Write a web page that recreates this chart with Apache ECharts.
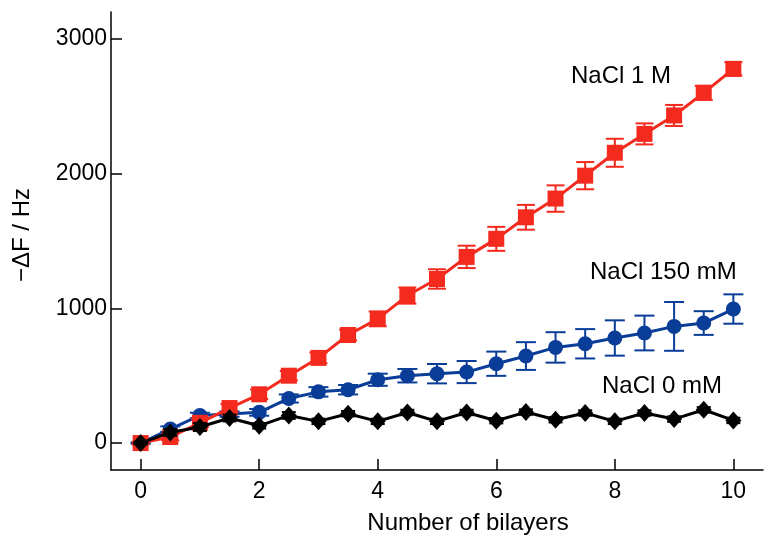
<!DOCTYPE html>
<html>
<head>
<meta charset="utf-8">
<script src="https://cdn.jsdelivr.net/npm/echarts@6/dist/echarts.min.js"></script>
<style>
  html, body { margin: 0; padding: 0; background: #ffffff; }
  #chart { width: 778px; height: 555px; }
</style>
</head>
<body>
<div id="chart"></div>
<script>
// ---- data ----
const bilayers = [0, 0.5, 1, 1.5, 2, 2.5, 3, 3.5, 4, 4.5, 5, 5.5, 6, 6.5, 7, 7.5, 8, 8.5, 9, 9.5, 10];
const nacl1M = [0, 45, 150, 260, 362, 500, 632, 802, 922, 1095, 1218, 1382, 1516, 1676, 1815, 1985, 2155, 2295, 2432, 2600, 2778];
const nacl1MErr = [10, 25, 30, 30, 35, 35, 40, 40, 55, 60, 72, 83, 89, 92, 98, 101, 104, 78, 78, 52, 50];
const nacl150 = [0, 104, 205, 215, 228, 331, 380, 396, 470, 500, 515, 527, 589, 646, 710, 737, 780, 817, 866, 891, 995];
const nacl150Err = [5, 20, 20, 20, 25, 30, 35, 35, 45, 50, 72, 82, 90, 103, 113, 109, 131, 129, 181, 88, 109];
const nacl0 = [0, 79, 119, 186, 128, 205, 161, 218, 161, 227, 161, 227, 166, 230, 173, 223, 161, 223, 178, 247, 168];
const nacl0Err = [10, 25, 30, 25, 20, 25, 20, 20, 20, 20, 20, 20, 20, 20, 20, 20, 20, 20, 20, 20, 20];
const xTicks = [0, 2, 4, 6, 8, 10];
const yTicks = [0, 1000, 2000, 3000];
const labels = ['NaCl 1 M', 'NaCl 150 mM', 'NaCl 0 mM'];

const RED = '#f42a1e';
const BLUE = '#0a3d98';
const BLACK = '#000000';
const FONT = 'Liberation Sans, Arial, sans-serif';

function pts(ys) { return bilayers.map((x, i) => [x, ys[i]]); }
function errPts(ys, es) { return bilayers.map((x, i) => [x, ys[i] - es[i], ys[i] + es[i]]); }

function errRender(color, capHalf) {
  return function (params, api) {
    const x = api.value(0);
    const p1 = api.coord([x, api.value(1)]);
    const p2 = api.coord([x, api.value(2)]);
    const st = { stroke: color, lineWidth: 2 };
    return {
      type: 'group',
      children: [
        { type: 'line', shape: { x1: p1[0], y1: p1[1], x2: p2[0], y2: p2[1] }, style: st },
        { type: 'line', shape: { x1: p1[0] - capHalf, y1: p1[1], x2: p1[0] + capHalf, y2: p1[1] }, style: st },
        { type: 'line', shape: { x1: p2[0] - capHalf, y1: p2[1], x2: p2[0] + capHalf, y2: p2[1] }, style: st }
      ]
    };
  };
}

function lineSeries(name, ys, color, symbol, size, z) {
  return {
    name: name, type: 'line', data: pts(ys), z: z,
    symbol: symbol, symbolSize: size, showSymbol: true,
    lineStyle: { color: color, width: 3 },
    itemStyle: { color: color },
    animation: false
  };
}
function errSeries(ys, es, color, capHalf, z) {
  return {
    type: 'custom', data: errPts(ys, es), z: z,
    encode: { x: 0, y: [1, 2] },
    renderItem: errRender(color, capHalf),
    animation: false, silent: true
  };
}

const chart = echarts.init(document.getElementById('chart'), null, { renderer: 'canvas' });
chart.setOption({
  backgroundColor: '#ffffff',
  animation: false,
  grid: { left: 111, right: 15, top: 12, bottom: 85, containLabel: false },
  xAxis: {
    type: 'value', min: -0.5, max: 10.5,
    name: 'Number of bilayers', nameLocation: 'middle', nameGap: 41,
    nameTextStyle: { fontFamily: FONT, fontSize: 24, color: '#000', padding: [0, 0, 0, 62] },
    axisLine: { show: true, onZero: false, lineStyle: { color: '#000', width: 1.5 } },
    axisTick: { show: true, inside: true, length: 11, customValues: xTicks, lineStyle: { color: '#000', width: 1.5 } },
    axisLabel: { customValues: xTicks, fontFamily: FONT, fontSize: 23, color: '#000', margin: 10,
                 formatter: function (v) { return String(v); } },
    splitLine: { show: false }
  },
  yAxis: {
    type: 'value', min: -200, max: 3200,
    name: '\u2212\u0394F / Hz', nameLocation: 'middle', nameGap: 77, nameRotate: 90,
    nameTextStyle: { fontFamily: FONT, fontSize: 24, color: '#000', padding: [0, 0, 0, 12] },
    axisLine: { show: true, onZero: false, lineStyle: { color: '#000', width: 1.5 } },
    axisTick: { show: true, inside: true, length: 11, customValues: yTicks, lineStyle: { color: '#000', width: 1.5 } },
    axisLabel: { customValues: yTicks, fontFamily: FONT, fontSize: 23, color: '#000', margin: 4,
                 formatter: function (v) { return String(v); } },
    splitLine: { show: false }
  },
  series: [
    errSeries(nacl150, nacl150Err, BLUE, 10, 1),
    lineSeries(labels[1], nacl150, BLUE, 'circle', 15, 2),
    errSeries(nacl1M, nacl1MErr, RED, 9, 3),
    lineSeries(labels[0], nacl1M, RED, 'rect', 16, 4),
    errSeries(nacl0, nacl0Err, BLACK, 7, 5),
    lineSeries(labels[2], nacl0, BLACK, 'diamond', [16, 18], 6)
  ],
  graphic: [
    { type: 'text', x: 571, y: 76, style: { text: labels[0], font: '24px ' + FONT, fill: '#000', verticalAlign: 'middle' } },
    { type: 'text', x: 590, y: 272, style: { text: labels[1], font: '24px ' + FONT, fill: '#000', verticalAlign: 'middle' } },
    { type: 'text', x: 602, y: 386, style: { text: labels[2], font: '24px ' + FONT, fill: '#000', verticalAlign: 'middle' } }
  ]
});
</script>
</body>
</html>
